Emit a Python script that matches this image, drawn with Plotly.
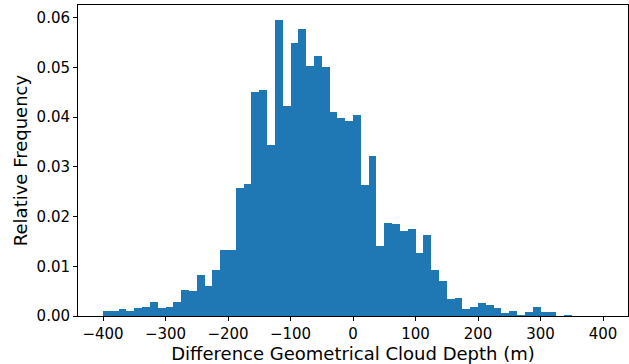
import plotly.graph_objects as go

# Histogram bin edges: -400 .. 400 in 64 bins of 12.5 m
bin_start = -400.0
bin_width = 12.5
rel_freq = [
    0.0010, 0.0010, 0.0014, 0.0010, 0.0016, 0.0018, 0.0028, 0.0016, 0.0018, 0.0028,
    0.00525, 0.00505, 0.0083, 0.0061, 0.0093, 0.0133, 0.0133, 0.0257, 0.0265,
    0.0451, 0.0455, 0.0345, 0.0596, 0.0422, 0.0549, 0.0578, 0.0503, 0.0523, 0.0501,
    0.0410, 0.0398, 0.0392, 0.0404, 0.0263, 0.0321, 0.0141, 0.0188, 0.0186, 0.0172,
    0.0176, 0.0127, 0.0164, 0.0093, 0.0071, 0.0034, 0.0036, 0.0014, 0.0018,
    0.0026, 0.0022, 0.0016, 0.0006, 0.0010, 0.0002, 0.0008, 0.0018, 0.0008, 0.0008,
    0.0, 0.0002, 0.0, 0.0, 0.0, 0.0,
]
x_ticks = [-400, -300, -200, -100, 0, 100, 200, 300, 400]
y_ticks = [0.00, 0.01, 0.02, 0.03, 0.04, 0.05, 0.06]

centers = [bin_start + bin_width * (i + 0.5) for i in range(len(rel_freq))]

def fmt_x(v):
    return ("\u2212" + str(abs(v))) if v < 0 else str(v)

fig = go.Figure(
    go.Bar(
        x=centers,
        y=rel_freq,
        width=[bin_width] * len(rel_freq),
        marker=dict(color="#1f77b4", line=dict(width=0)),
        hoverinfo="x+y",
    )
)

font = "DejaVu Sans"
fig.update_layout(
    width=629,
    height=364,
    margin=dict(l=78, r=1, t=5, b=48),
    paper_bgcolor="white",
    plot_bgcolor="white",
    bargap=0,
    showlegend=False,
    font=dict(family=font, size=15, color="black"),
)
fig.update_xaxes(
    range=[-440, 440],
    tickvals=x_ticks,
    ticktext=[fmt_x(v) for v in x_ticks],
    ticks="outside",
    ticklen=4,
    tickwidth=1,
    tickcolor="black",
    showline=True,
    linecolor="black",
    linewidth=1,
    mirror=True,
    showgrid=False,
    zeroline=False,
    tickfont=dict(family=font, size=15),
    title=dict(text="Difference Geometrical Cloud Depth (m)", font=dict(family=font, size=18), standoff=2),
)
fig.update_yaxes(
    range=[0, max(rel_freq) * 1.05],
    tickvals=y_ticks,
    ticktext=["%.2f" % v for v in y_ticks],
    ticks="outside",
    ticklen=4,
    tickwidth=1,
    tickcolor="black",
    showline=True,
    linecolor="black",
    linewidth=1,
    mirror=True,
    showgrid=False,
    zeroline=False,
    tickfont=dict(family=font, size=15),
    title=dict(text="Relative Frequency", font=dict(family=font, size=18), standoff=4),
)

fig.write_html("out.html")
